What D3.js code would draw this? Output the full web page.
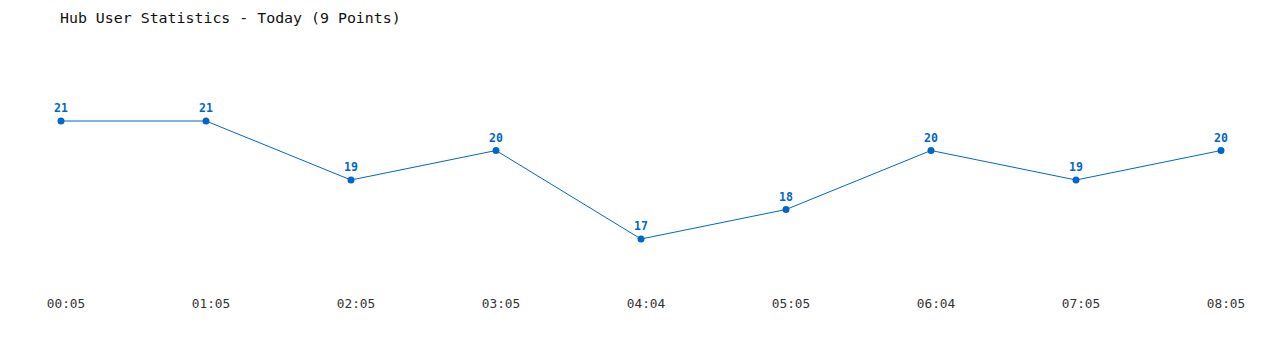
<!DOCTYPE html>
<html>
<head>
<meta charset="utf-8">
<script src="https://cdn.jsdelivr.net/npm/d3@7"></script>
<style>
  body { margin: 0; background: #fff; }
</style>
</head>
<body>
<div id="chart"></div>
<script>
// Hub users sampled during the day
const times = ["00:05", "01:05", "02:05", "03:05", "04:04", "05:05", "06:04", "07:05", "08:05"];
const users = [21, 21, 19, 20, 17, 18, 20, 19, 20];

const width = 1280;
const height = 350;
const mono = "'DejaVu Sans Mono', 'Liberation Mono', monospace";
const blue = "#0066cc";

const svg = d3.select("#chart")
    .append("svg")
    .attr("width", width)
    .attr("height", height);

const x = d3.scalePoint()
    .domain(times)
    .range([61, 1221]);

const y = d3.scaleLinear()
    .domain([17, 21])
    .range([239, 121]);

// title
svg.append("text")
    .attr("x", 60)
    .attr("y", 23)
    .style("font-family", mono)
    .style("font-size", "14.9px")
    .attr("fill", "#111")
    .text("Hub User Statistics - Today (9 Points)");

// x labels
svg.append("g")
    .selectAll("text")
    .data(times)
    .enter().append("text")
    .attr("x", d => x(d) + 5)
    .attr("y", 308)
    .attr("text-anchor", "middle")
    .style("font-family", mono)
    .style("font-size", "12.8px")
    .attr("fill", "#333")
    .text(d => d);

const pts = times.map((t, i) => ({ t, v: users[i] }));

const line = d3.line()
    .x(d => x(d.t))
    .y(d => y(d.v));

svg.append("path")
    .datum(pts)
    .attr("d", line)
    .attr("fill", "none")
    .attr("stroke", blue)
    .attr("stroke-width", 1);

svg.selectAll(".dot")
    .data(pts)
    .enter().append("circle")
    .attr("class", "dot")
    .attr("cx", d => x(d.t))
    .attr("cy", d => y(d.v))
    .attr("r", 3.5)
    .attr("fill", blue);

svg.selectAll(".val")
    .data(pts)
    .enter().append("text")
    .attr("class", "val")
    .attr("x", d => x(d.t))
    .attr("y", d => y(d.v) - 9)
    .attr("text-anchor", "middle")
    .style("font-family", mono)
    .style("font-size", "11.5px")
    .style("font-weight", "bold")
    .attr("fill", blue)
    .text(d => d.v);
</script>
</body>
</html>
